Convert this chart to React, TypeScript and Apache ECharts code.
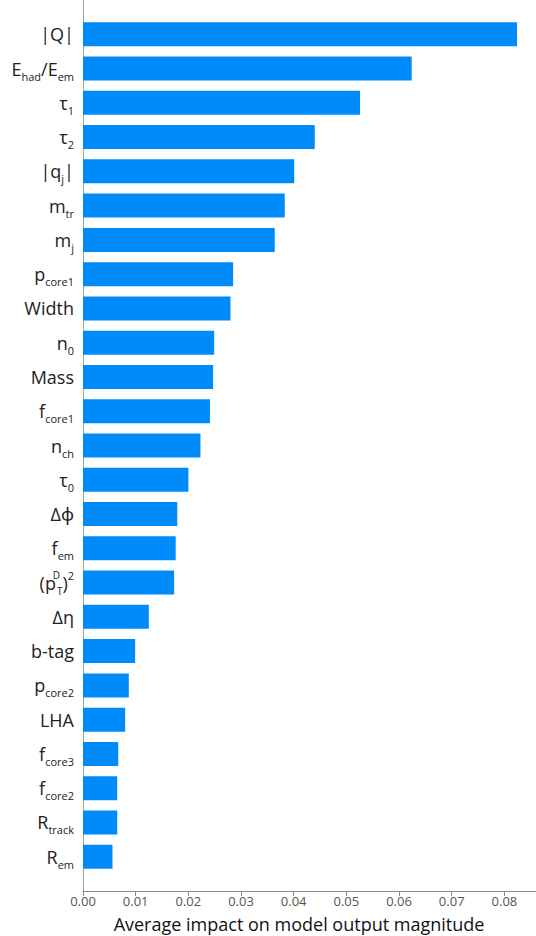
import React, { useEffect, useRef } from "react";
import * as echarts from "echarts";

// Feature names, top to bottom. "_{x}" = subscript, "^{x}" = superscript.
const featureLabels: string[] = [
  "|Q|",
  "E_{had}/E_{em}",
  "τ_{1}",
  "τ_{2}",
  "|q_{j}|",
  "m_{tr}",
  "m_{j}",
  "p_{core1}",
  "Width",
  "n_{0}",
  "Mass",
  "f_{core1}",
  "n_{ch}",
  "τ_{0}",
  "Δϕ",
  "f_{em}",
  "(p^{D}_{T})^{2}",
  "Δη",
  "b-tag",
  "p_{core2}",
  "LHA",
  "f_{core3}",
  "f_{core2}",
  "R_{track}",
  "R_{em}",
];

// Mean |SHAP value| for each feature, same order.
const impactValues: number[] = [
  0.0824, 0.0624, 0.0526, 0.044, 0.0401, 0.0383, 0.0364, 0.0285, 0.028, 0.0249,
  0.0247, 0.0241, 0.0223, 0.02, 0.0179, 0.0176, 0.0173, 0.0125, 0.0099, 0.0087,
  0.008, 0.0067, 0.0065, 0.0065, 0.0056,
];

const xTickValues: number[] = [0, 0.01, 0.02, 0.03, 0.04, 0.05, 0.06, 0.07, 0.08];
const xAxisTitle = "Average impact on model output magnitude";

const FONT = "'Open Sans', 'Noto Sans', sans-serif";

function toRich(label: string): string {
  const tokens: { kind: string; text: string }[] = [];
  let i = 0;
  let buf = "";
  while (i < label.length) {
    const c = label[i];
    if ((c === "_" || c === "^") && label[i + 1] === "{") {
      if (buf) {
        tokens.push({ kind: "m", text: buf });
        buf = "";
      }
      const end = label.indexOf("}", i + 2);
      tokens.push({ kind: c === "_" ? "s" : "u", text: label.slice(i + 2, end) });
      i = end + 1;
    } else {
      buf += c;
      i++;
    }
  }
  if (buf) tokens.push({ kind: "m", text: buf });
  return tokens
    .map((t, k) => {
      let kind = t.kind;
      if (kind === "u" && tokens[k + 1] && tokens[k + 1].kind === "s") kind = "us";
      if (kind === "s" && tokens[k - 1] && tokens[k - 1].kind === "u") kind = "ss";
      return `{${kind}|${t.text}}`;
    })
    .join("");
}

export default function App() {
  const ref = useRef<HTMLDivElement>(null);

  useEffect(() => {
    if (!ref.current) return;
    const chart = echarts.init(ref.current, undefined, { renderer: "svg" });

    const categories = [" ", ...featureLabels, "  "];
    const seriesData: (number | string)[] = ["-", ...impactValues, "-"];

    const LABEL_COLOR = "#222222";

    chart.setOption({
      animation: false,
      backgroundColor: "#ffffff",
      grid: { left: 83, right: 0, top: 0, bottom: 45, containLabel: false },
      xAxis: {
        type: "value",
        min: 0,
        max: 0.086,
        interval: 0.01,
        axisLine: { show: true, lineStyle: { color: "#8a8a8a", width: 1 } },
        axisTick: {
          show: true,
          length: 5,
          lineStyle: { color: "#8a8a8a" },
          customValues: xTickValues,
        },
        axisLabel: {
          color: "#555555",
          fontSize: 13,
          lineHeight: 14,
          fontFamily: FONT,
          margin: 3,
          customValues: xTickValues,
          formatter: (v: number) => v.toFixed(2),
        },
        splitLine: { show: false },
      },
      yAxis: {
        type: "category",
        inverse: true,
        boundaryGap: false,
        data: categories,
        axisLine: { show: true, lineStyle: { color: "#a0a0a0", width: 1 } },
        axisTick: { show: false },
        splitLine: { show: false },
        axisLabel: {
          interval: 0,
          margin: 9,
          formatter: (_v: string, idx: number) => {
            const lab = featureLabels[idx - 1];
            return lab ? toRich(lab) : "";
          },
          rich: {
            m: { fontSize: 18, fontFamily: FONT, color: LABEL_COLOR, lineHeight: 26 },
            s: {
              fontSize: 11,
              fontFamily: FONT,
              color: LABEL_COLOR,
              lineHeight: 8,
              verticalAlign: "bottom",
            },
            ss: {
              fontSize: 10,
              fontFamily: FONT,
              color: LABEL_COLOR,
              lineHeight: 8,
              verticalAlign: "bottom",
            },
            u: {
              fontSize: 11,
              fontFamily: FONT,
              color: LABEL_COLOR,
              lineHeight: 10,
              verticalAlign: "top",
            },
            us: {
              fontSize: 10,
              fontFamily: FONT,
              color: LABEL_COLOR,
              lineHeight: 10,
              verticalAlign: "top",
              width: 1,
              align: "left",
            },
          },
        },
      },
      series: [
        {
          type: "bar",
          data: seriesData,
          barWidth: 24,
          itemStyle: { color: "#008BFB" },
        },
      ],
      graphic: [
        {
          type: "text",
          x: 299,
          y: 923.5,
          style: {
            text: xAxisTitle,
            fontSize: 18,
            lineHeight: 20,
            fontFamily: FONT,
            fill: "#111111",
            align: "center",
            verticalAlign: "middle",
          },
        },
      ],
    });

    return () => chart.dispose();
  }, []);

  return (
    <div
      ref={ref}
      style={{ position: "fixed", left: 0, top: 0, width: 536, height: 936 }}
    />
  );
}
